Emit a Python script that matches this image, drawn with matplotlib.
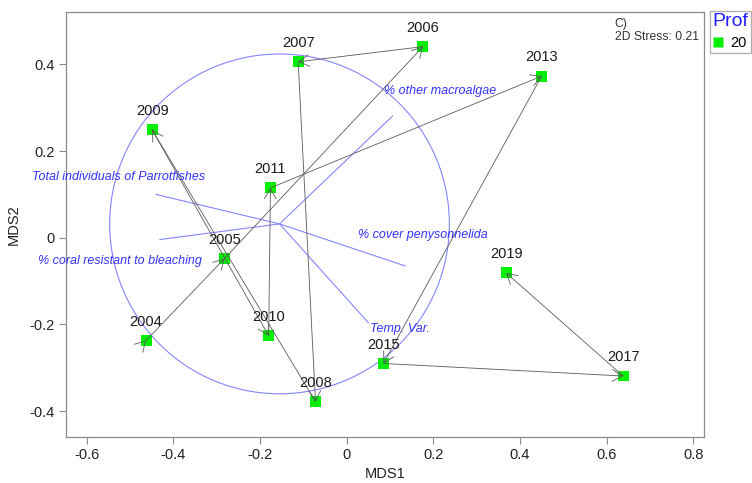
import numpy as np
import matplotlib
matplotlib.use("Agg")
import matplotlib.pyplot as plt
from matplotlib.patches import Circle
from matplotlib.lines import Line2D

plt.rcParams["font.family"] = ["Liberation Sans", "DejaVu Sans"]

# nMDS site scores (one point per year)
years = ["2004", "2005", "2006", "2007", "2008", "2009",
         "2010", "2011", "2013", "2015", "2017", "2019"]
mds1 = [-0.463, -0.282, 0.176, -0.112, -0.072, -0.449,
        -0.180, -0.176, 0.450, 0.085, 0.638, 0.368]
mds2 = [-0.237, -0.048, 0.441, 0.406, -0.378, 0.249,
        -0.226, 0.115, 0.373, -0.290, -0.319, -0.081]

# correlation vectors (relative to the circle centre) and their label positions
vec_names = ["Total individuals of Parrotfishes",
             "% coral resistant to bleaching",
             "% cover penysonnelida",
             "% other macroalgae",
             "Temp. Var."]
vec_dx = [-0.285, -0.276, 0.290, 0.261, 0.205]
vec_dy = [0.068, -0.036, -0.097, 0.249, -0.228]
vec_lab_x = [-0.526, -0.523, 0.177, 0.216, 0.124]
vec_lab_y = [0.141, -0.054, 0.006, 0.339, -0.211]
circle_center = (-0.155, 0.032)
circle_radius = 0.392

stress = 0.21
panel = "C)"
group_name = "Prof"
group_level = "20"

blue_line = "#8585ff"
blue_text = "#3333ff"
green = "#00ee00"
arrow_col = "#5a5a5a"

fig = plt.figure(figsize=(7.52, 4.83), dpi=100)
ax = fig.add_axes([65.7 / 752, 1 - 436.7 / 483, 638 / 752, 425 / 483])
ax.set_xlim(-0.6485, 0.824)
ax.set_ylim(-0.459, 0.5216)

# vector circle and vectors
ax.add_patch(Circle(circle_center, circle_radius, fill=False,
                    ec=blue_line, lw=0.8, zorder=1))
cx, cy = circle_center
for dx, dy in zip(vec_dx, vec_dy):
    ax.plot([cx, cx + dx], [cy, cy + dy], color=blue_line, lw=0.8, zorder=1)
for name, lx, ly in zip(vec_names, vec_lab_x, vec_lab_y):
    ax.text(lx, ly, name, color=blue_text, fontsize=9, style="italic",
            ha="center", va="center", zorder=4)

# points
ax.scatter(mds1, mds2, marker="s", s=62, color=green, edgecolors="none",
           zorder=2)

# trajectory arrows in chronological order
astyle = "->,head_length=0.72,head_width=0.42"
for i in range(len(years) - 1):
    ax.annotate("", xy=(mds1[i + 1], mds2[i + 1]), xytext=(mds1[i], mds2[i]),
                arrowprops=dict(arrowstyle=astyle, color=arrow_col, lw=0.6,
                                shrinkA=0, shrinkB=0), zorder=3)
# head on the first site
d0 = np.array([mds1[1] - mds1[0], mds2[1] - mds2[0]])
d0 = d0 / np.hypot(*d0) * 0.002
ax.annotate("", xy=(mds1[0], mds2[0]), xytext=(mds1[0] - d0[0], mds2[0] - d0[1]),
            arrowprops=dict(arrowstyle=astyle, color=arrow_col, lw=0.6,
                            shrinkA=0, shrinkB=0), zorder=3)

# year labels
for x, y, t in zip(mds1, mds2, years):
    ax.annotate(t, (x, y), xytext=(0, 13.5), textcoords="offset points",
                ha="center", va="center", fontsize=10.5, color="#1a1a1a",
                zorder=5)

ax.text(0.8605, 0.970, panel, transform=ax.transAxes, fontsize=8.7,
        color="#333333", ha="left", va="center")
ax.text(0.8605, 0.940, f"2D Stress: {stress}", transform=ax.transAxes,
        fontsize=8.7, color="#333333", ha="left", va="center")

# axes styling
for sp in ax.spines.values():
    sp.set_color("#8c8c8c")
    sp.set_linewidth(0.9)
ax.set_xticks([-0.6, -0.4, -0.2, 0, 0.2, 0.4, 0.6, 0.8])
ax.set_xticklabels(["-0.6", "-0.4", "-0.2", "0", "0.2", "0.4", "0.6", "0.8"])
ax.set_yticks([-0.4, -0.2, 0, 0.2, 0.4])
ax.set_yticklabels(["-0.4", "-0.2", "0", "0.2", "0.4"])
ax.tick_params(direction="out", length=5, width=0.8, color="#8c8c8c",
               labelsize=10.5, labelcolor="#222222", pad=3)
ax.set_xlabel("MDS1", fontsize=10.5, color="#222222", labelpad=4)
ax.set_ylabel("MDS2", fontsize=10.5, color="#222222", labelpad=6)

# legend
handle = Line2D([], [], marker="s", linestyle="none", markersize=6.5,
                markerfacecolor=green, markeredgecolor="none")
leg = fig.legend([handle], [group_level], title=group_name, loc="upper left",
                 bbox_to_anchor=(709.5 / 752, 1 - 10.5 / 483),
                 fontsize=10.5, title_fontsize=14, alignment="left",
                 frameon=True, fancybox=False, borderpad=0.2,
                 handlelength=0.7, handletextpad=0.55, borderaxespad=0,
                 labelspacing=0.4)
leg.get_title().set_color("#2020ff")
leg.get_frame().set_edgecolor("#9a9a9a")
leg.get_frame().set_linewidth(0.9)

fig.savefig("out.png", dpi=100)
